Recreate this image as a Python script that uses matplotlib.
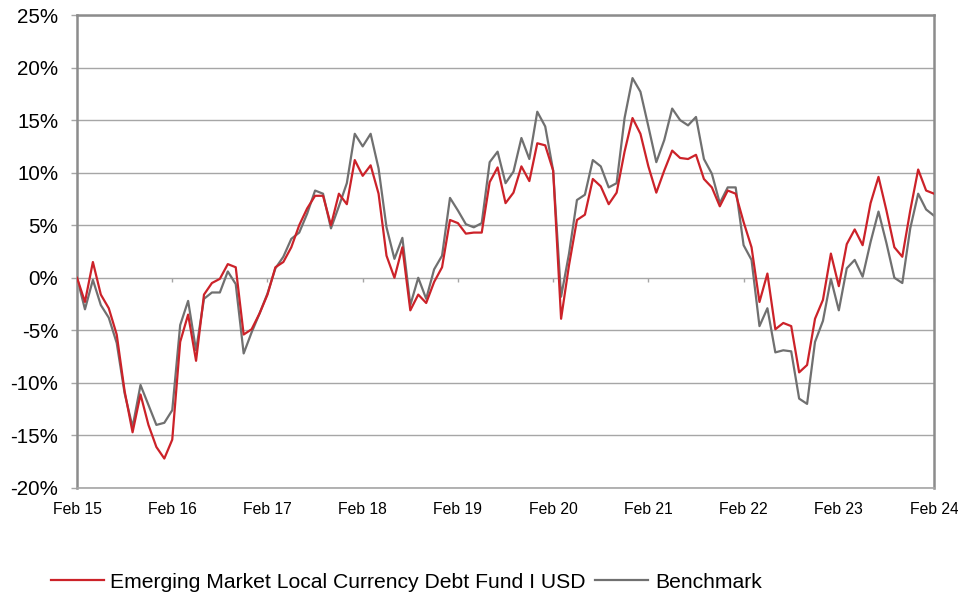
import numpy as np
import matplotlib
matplotlib.use('Agg')
import matplotlib.pyplot as plt

plt.rcParams['font.family'] = ['Liberation Sans', 'DejaVu Sans']

# monthly cumulative performance (%), Feb 15 .. Feb 24
fund = [0.0, -2.3, 1.5, -1.6, -2.9, -5.4, -10.8, -14.7, -11.1, -14.0, -16.1, -17.2,
        -15.4, -6.1, -3.5, -7.9, -1.6, -0.5, -0.1, 1.3, 1.0, -5.4, -4.9, -3.4,
        -1.6, 1.0, 1.5, 2.9, 5.0, 6.6, 7.8, 7.8, 5.0, 8.0, 7.0, 11.2,
        9.7, 10.7, 8.0, 2.1, 0.0, 2.9, -3.1, -1.6, -2.4, -0.4, 1.0, 5.5,
        5.2, 4.2, 4.3, 4.3, 9.1, 10.5, 7.1, 8.1, 10.6, 9.2, 12.8, 12.6,
        10.2, -3.9, 1.2, 5.5, 6.0, 9.4, 8.7, 7.0, 8.1, 12.0, 15.2, 13.7,
        10.6, 8.1, 10.2, 12.1, 11.4, 11.3, 11.7, 9.4, 8.6, 6.8, 8.3, 8.0,
        5.3, 2.9, -2.3, 0.4, -4.9, -4.3, -4.6, -9.0, -8.3, -3.9, -2.1, 2.3,
        -0.8, 3.2, 4.6, 3.1, 7.1, 9.6, 6.4, 2.9, 2.0, 6.4, 10.3, 8.3,
        8.0]
benchmark = [0.0, -3.0, -0.2, -2.6, -3.8, -6.2, -11.0, -14.2, -10.2, -12.1, -14.0, -13.8,
             -12.6, -4.5, -2.2, -6.9, -2.0, -1.4, -1.4, 0.6, -0.6, -7.2, -5.2, -3.4,
             -1.5, 0.9, 2.0, 3.7, 4.3, 6.1, 8.3, 8.0, 4.7, 6.8, 9.0, 13.7,
             12.5, 13.7, 10.4, 4.8, 1.8, 3.8, -2.6, 0.0, -2.0, 0.8, 2.1, 7.6,
             6.4, 5.1, 4.8, 5.2, 11.0, 12.0, 9.0, 10.1, 13.3, 11.3, 15.8, 14.4,
             10.2, -1.8, 2.3, 7.4, 7.9, 11.2, 10.6, 8.6, 9.0, 15.2, 19.0, 17.7,
             14.4, 11.0, 13.1, 16.1, 15.0, 14.5, 15.3, 11.3, 9.9, 7.1, 8.6, 8.6,
             3.1, 1.7, -4.6, -2.9, -7.1, -6.9, -7.0, -11.5, -12.0, -6.1, -4.1, -0.1,
             -3.1, 0.9, 1.7, 0.1, 3.4, 6.3, 3.3, 0.0, -0.5, 4.7, 8.0, 6.5,
             5.9]
year_labels = ['Feb 15', 'Feb 16', 'Feb 17', 'Feb 18', 'Feb 19',
               'Feb 20', 'Feb 21', 'Feb 22', 'Feb 23', 'Feb 24']

months = np.arange(len(fund))
ymin, ymax = -20, 25

fig = plt.figure(figsize=(9.58, 5.94), dpi=100)
ax = fig.add_axes([0.0804, 0.1785, 0.8946, 0.7962])

for y in range(ymin, ymax + 1, 5):
    ax.axhline(y, color='#a6a6a6', lw=1.0, zorder=1)

ax.plot(months, fund, color='#cc2229', lw=1.6, zorder=3,
        label='Emerging Market Local Currency Debt Fund I USD')
ax.plot(months, benchmark, color='#707070', lw=1.6, zorder=2,
        label='Benchmark')

ax.set_xlim(0, len(fund) - 1)
ax.set_ylim(ymin, ymax)

ax.set_yticks(range(ymin, ymax + 1, 5))
ax.set_yticklabels(['%d%%' % v for v in range(ymin, ymax + 1, 5)], fontsize=14.8)
ax.tick_params(axis='y', length=4.5, width=1, color='#a6a6a6', pad=9)

ax.set_xticks(np.arange(0, len(fund), 12))
ax.set_xticklabels(year_labels, fontsize=11.3)
ax.tick_params(axis='x', length=0, pad=10)

for s in ax.spines.values():
    s.set_color('#8c8c8c')
    s.set_linewidth(1.8)
ax.spines['bottom'].set_linewidth(1.2)
ax.spines['bottom'].set_color('#a6a6a6')

# small tick marks on the zero line
zero_ax = ax.secondary_xaxis((0 - ymin) / (ymax - ymin))
zero_ax.set_xticks(np.arange(0, len(fund), 12))
zero_ax.tick_params(axis='x', direction='out', length=3, width=1,
                    color='#a6a6a6', labelbottom=False, labeltop=False)
zero_ax.spines['bottom'].set_visible(False)
zero_ax.spines['top'].set_visible(False)

fig.legend(loc='center left', bbox_to_anchor=(0.0534, 1 - 582 / 594), ncol=2,
           frameon=False, fontsize=15.25, handlelength=2.5, handletextpad=0.3,
           columnspacing=0.45, borderaxespad=0, borderpad=0)

fig.savefig('out.png', dpi=100)
